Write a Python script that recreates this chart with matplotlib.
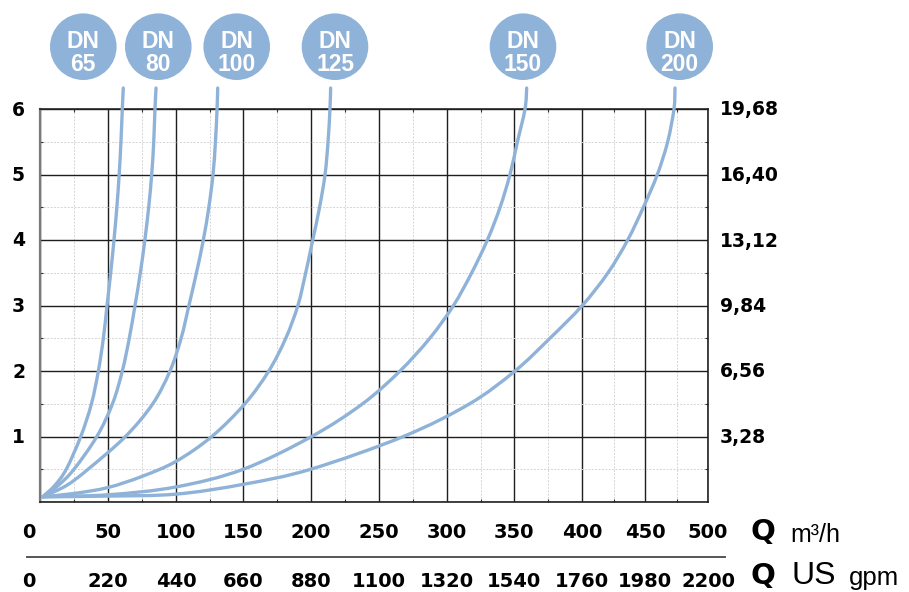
import numpy as np
import matplotlib
matplotlib.use("Agg")
import matplotlib.pyplot as plt
from matplotlib.patches import Ellipse, PathPatch
from matplotlib.path import Path
from matplotlib.lines import Line2D
from matplotlib.ticker import FixedLocator
import matplotlib.transforms as mtransforms

# ---------------- data ----------------
q_ticks = [0, 50, 100, 150, 200, 250, 300, 350, 400, 450, 500]
q_labels = ["0", "50", "100", "150", "200", "250", "300", "350", "400", "450", "500"]
gpm_labels = ["0", "220", "440", "660", "880", "1100", "1320", "1540", "1760", "1980", "2200"]
h_ticks = [1, 2, 3, 4, 5, 6]
h_labels = ["1", "2", "3", "4", "5", "6"]
ft_labels = ["3,28", "6,56", "9,84", "13,12", "16,40", "19,68"]
dn_names = ["65", "80", "100", "125", "150", "200"]

dn65_q = [2, 10.8, 19.4, 30.1, 38.0, 43.1, 46.8, 49.5, 52.2, 54.6, 56.7, 58.4, 59.7, 60.7, 61.4]
dn65_h = [0.08, 0.25, 0.5, 1.0, 1.5, 2.0, 2.5, 3.0, 3.5, 4.0, 4.5, 5.0, 5.5, 6.0, 6.32]

dn80_q = [2, 13.3, 25.1, 42.0, 53.5, 60.7, 65.8, 70.0, 73.9, 77.2, 80.0, 82.2, 83.7, 84.6, 85.4]
dn80_h = [0.08, 0.25, 0.5, 1.0, 1.5, 2.0, 2.5, 3.0, 3.5, 4.0, 4.5, 5.0, 5.5, 6.0, 6.32]

dn100_q = [2, 19.4, 35.5, 63.0, 83.0, 95.6, 103.8, 109.6, 115.2, 120.3, 124.4, 127.5, 129.3, 130.5, 131.0]
dn100_h = [0.08, 0.25, 0.5, 1.0, 1.5, 2.0, 2.5, 3.0, 3.5, 4.0, 4.5, 5.0, 5.5, 6.0, 6.32]

dn125_q = [2, 25, 50, 75, 100, 126.6, 151.2, 168.9, 181.5, 190.5, 196.3, 201.5, 206.5, 210.5, 212.7, 214.1, 214.6]
dn125_h = [0.08, 0.13, 0.22, 0.39, 0.62, 1.0, 1.5, 2.0, 2.5, 3.0, 3.5, 4.0, 4.5, 5.0, 5.5, 6.0, 6.32]

dn150_q = [2, 50, 100, 150, 200.7, 238.0, 265.5, 287.5, 305.0, 318.5, 330.1, 339.5, 346.8, 352.3, 357.9, 359.1]
dn150_h = [0.08, 0.11, 0.23, 0.5, 1.0, 1.5, 2.0, 2.5, 3.0, 3.5, 4.0, 4.5, 5.0, 5.5, 6.0, 6.32]

dn200_q = [2, 50, 100, 150, 200, 268, 317, 350.5, 376.2, 400, 420.5, 436.2, 448.7, 459.8, 468.0, 473.0, 473.8]
dn200_h = [0.08, 0.09, 0.12, 0.27, 0.5, 1.0, 1.5, 2.0, 2.5, 3.0, 3.5, 4.0, 4.5, 5.0, 5.5, 6.0, 6.32]

curves = [(dn65_q, dn65_h), (dn80_q, dn80_h), (dn100_q, dn100_h),
          (dn125_q, dn125_h), (dn150_q, dn150_h), (dn200_q, dn200_h)]

# ---------------- style / layout ----------------
BLUE = "#8FB2D8"
W, H = 909, 592
NUMFONT = "DejaVu Sans"
SANS = "Liberation Sans"

fig = plt.figure(figsize=(W / 100, H / 100), dpi=100)
AX_L, AX_R, AX_B, AX_T = 40, 708, 502, 109
PX_W, PX_H = AX_R - AX_L, AX_B - AX_T
ax = fig.add_axes([AX_L / W, 1 - AX_B / H, PX_W / W, PX_H / H])

# piecewise-linear x scale (the grid spacing of the original is not uniform)
GRID_POS = np.array([0, 67.7, 136.0, 203.3, 270.7, 339.0, 406.7, 474.3, 542.3, 605.0, 668.0]) / 668.0
QN = np.array(q_ticks, float)


def _pw(x, xs, ys):
    x = np.asarray(x, float)
    y = np.interp(x, xs, ys)
    s0 = (ys[1] - ys[0]) / (xs[1] - xs[0])
    s1 = (ys[-1] - ys[-2]) / (xs[-1] - xs[-2])
    y = np.where(x < xs[0], ys[0] + (x - xs[0]) * s0, y)
    y = np.where(x > xs[-1], ys[-1] + (x - xs[-1]) * s1, y)
    return y


def fwd(x):
    return _pw(x, QN, GRID_POS)


def inv(y):
    return _pw(y, GRID_POS, QN)


ax.set_xscale("function", functions=(fwd, inv))
ax.set_xlim(q_ticks[0], q_ticks[-1])
ax.set_ylim(0, h_ticks[-1])

q_minor = [(a + b) / 2 for a, b in zip(q_ticks[:-1], q_ticks[1:])]
h_all = [0] + h_ticks
h_minor = [(a + b) / 2 for a, b in zip(h_all[:-1], h_all[1:])]
ax.xaxis.set_major_locator(FixedLocator(q_ticks))
ax.xaxis.set_minor_locator(FixedLocator(q_minor))
ax.yaxis.set_major_locator(FixedLocator(h_all))
ax.yaxis.set_minor_locator(FixedLocator(h_minor))
ax.tick_params(which="both", labelbottom=False, labelleft=False, length=0)
ax.tick_params(which="minor", length=2.5, width=0.8, direction="in", color="#333333",
               top=True, right=True, bottom=True, left=True)

ax.set_axisbelow(True)
ax.grid(which="major", color="#1e1e1e", lw=1.0)
ax.grid(which="minor", color="#d4d4d4", lw=0.7, ls=(0, (2, 1.5)))
for side in ["top", "bottom", "right"]:
    ax.spines[side].set_color("#222222")
    ax.spines[side].set_linewidth(1.2)
ax.spines["left"].set_color("#7a7a7a")
ax.spines["left"].set_linewidth(1.6)


def smooth_path(q, h):
    """Smooth (Catmull-Rom as cubic Bezier) line through the read points."""
    X = fwd(q) * PX_W
    Y = np.asarray(h, float) * PX_H / h_ticks[-1]
    P = np.column_stack([X, Y])
    n = len(P)
    verts = [P[0]]
    codes = [Path.MOVETO]
    for i in range(n - 1):
        p0 = P[i - 1] if i > 0 else P[i]
        p1, p2 = P[i], P[i + 1]
        p3 = P[i + 2] if i + 2 < n else P[i + 1]
        verts += [p1 + (p2 - p0) / 6.0, p2 - (p3 - p1) / 6.0, p2]
        codes += [Path.CURVE4] * 3
    V = np.array(verts)
    V[:, 0] = inv(V[:, 0] / PX_W)
    V[:, 1] = V[:, 1] / PX_H * h_ticks[-1]
    return Path(V, codes)


for q, h in curves:
    ax.add_patch(PathPatch(smooth_path(q, h), fill=False, ec=BLUE, lw=2.4,
                           clip_on=False, capstyle="round", joinstyle="round", zorder=3))

# ---------------- axis labels ----------------
xt = ax.get_xaxis_transform()
row1 = mtransforms.offset_copy(xt, fig=fig, x=0, y=-35.5, units="dots")
row2 = mtransforms.offset_copy(xt, fig=fig, x=0, y=-85.3, units="dots")
row1z = mtransforms.offset_copy(xt, fig=fig, x=-11.5, y=-35.5, units="dots")
row2z = mtransforms.offset_copy(xt, fig=fig, x=-11.5, y=-85.3, units="dots")
for i, (q, l1, l2) in enumerate(zip(q_ticks, q_labels, gpm_labels)):
    t1 = row1z if i == 0 else row1
    t2 = row2z if i == 0 else row2
    ax.text(q, 0, l1, transform=t1, ha="center", va="baseline", fontsize=14,
            fontweight="bold", family=NUMFONT, color="black")
    ax.text(q, 0, l2, transform=t2, ha="center", va="baseline", fontsize=14,
            fontweight="bold", family=NUMFONT, color="black")

yt = ax.get_yaxis_transform()
left_t = mtransforms.offset_copy(yt, fig=fig, x=-15, y=-6.5, units="dots")
right_t = mtransforms.offset_copy(yt, fig=fig, x=12, y=-6.5, units="dots")
for h, lab, ft in zip(h_ticks, h_labels, ft_labels):
    ax.text(0, h, lab, transform=left_t, ha="right", va="baseline", fontsize=13.5,
            fontweight="bold", family=NUMFONT, color="black")
    ax.text(1, h, ft, transform=right_t, ha="left", va="baseline", fontsize=13.5,
            fontweight="bold", family=NUMFONT, color="black")

# separator line between the two flow scales
fig.add_artist(Line2D([27 / W, 725 / W], [1 - 556.7 / H] * 2, transform=fig.transFigure,
                      color="#555555", lw=1.4))


def ftext(x, y, s, **kw):
    fig.text(x / W, 1 - y / H, s, va="baseline", ha="left", **kw)


ftext(751, 540, "Q", fontsize=21, fontweight="heavy", family=NUMFONT)
ftext(790, 542.5, "m³/h", fontsize=18, family=SANS)
ftext(751, 584, "Q", fontsize=21, fontweight="heavy", family=NUMFONT)
ftext(791, 584.5, "US", fontsize=23, family=SANS)
ftext(849, 584.5, "gpm", fontsize=18.5, family=SANS)

# ---------------- DN bubbles ----------------
circle_x = [83.3, 158.3, 236.7, 335.0, 523.0, 679.7]
CY, R = 46.7, 33.3
for cx, name in zip(circle_x, dn_names):
    fig.add_artist(Ellipse((cx / W, 1 - CY / H), 2 * R / W, 2 * R / H,
                           transform=fig.transFigure, fc=BLUE, ec="none"))
    fig.text(cx / W, 1 - 47.7 / H, "DN", ha="center", va="baseline", color="white",
             fontsize=16.5, fontweight="bold", family=SANS)
    fig.text(cx / W, 1 - 71 / H, name, ha="center", va="baseline", color="white",
             fontsize=16.5, fontweight="bold", family=SANS)

fig.savefig("out.png", dpi=100)
